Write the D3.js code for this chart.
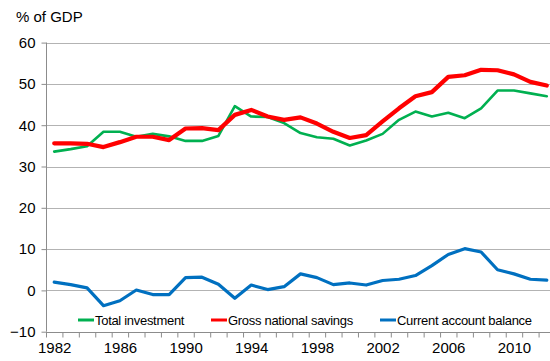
<!DOCTYPE html>
<html>
<head>
<meta charset="utf-8">
<script src="https://cdn.jsdelivr.net/npm/d3@7"></script>
<style>
  html, body { margin: 0; padding: 0; background: #fff; }
  svg { display: block; font-family: "Liberation Sans", Arial, sans-serif; }
</style>
</head>
<body>
<svg id="chart" width="550" height="361"></svg>
<script>
// Years 1982-2012, values in % of GDP
const years = d3.range(1982, 2013);
const totalInvestment = [33.6, 34.2, 34.9, 38.4, 38.4, 37.2, 37.9, 37.3, 36.2, 36.2, 37.4,
  44.6, 42.1, 42.0, 40.5, 38.1, 37.1, 36.7, 35.1, 36.3, 37.9, 41.3, 43.3, 42.1, 43.0,
  41.7, 44.1, 48.4, 48.4, 47.7, 47.0];
const grossSavings = [35.6, 35.6, 35.5, 34.7, 35.9, 37.2, 37.2, 36.4, 39.2, 39.3, 38.8,
  42.5, 43.7, 42.1, 41.3, 41.9, 40.4, 38.4, 36.9, 37.6, 40.9, 44.1, 47.0, 48.0, 51.7,
  52.1, 53.4, 53.3, 52.3, 50.5, 49.6];
const currentAccount = [2.0, 1.4, 0.6, -3.7, -2.5, 0.1, -1.0, -1.0, 3.1, 3.2, 1.5,
  -1.9, 1.3, 0.2, 0.9, 4.0, 3.1, 1.4, 1.8, 1.3, 2.4, 2.7, 3.6, 6.0, 8.7,
  10.1, 9.3, 5.0, 4.0, 2.7, 2.5];
const yTicks = [-10, 0, 10, 20, 30, 40, 50, 60];
const xLabels = [1982, 1986, 1990, 1994, 1998, 2002, 2006, 2010];

const series = [
  { name: "Total investment", values: totalInvestment, color: "#00b050", width: 2.6 },
  { name: "Gross national savings", values: grossSavings, color: "#ff0000", width: 4.2 },
  { name: "Current account balance", values: currentAccount, color: "#0070c0", width: 3.2 }
];

const svg = d3.select("#chart");
const plot = { left: 46, right: 555, top: 42.6, bottom: 331.7 };

const x = d3.scaleLinear().domain([years[0] - 0.5, years[years.length - 1] + 0.5]).range([plot.left, plot.right]);
const y = d3.scaleLinear().domain([-10, 60]).range([plot.bottom, plot.top]);

// Horizontal gridlines
svg.append("g")
  .selectAll("line")
  .data(yTicks.filter(d => d !== -10))
  .join("line")
  .attr("x1", plot.left).attr("x2", plot.right)
  .attr("y1", d => Math.round(y(d)) + 0.5).attr("y2", d => Math.round(y(d)) + 0.5)
  .attr("stroke", "#b3b3b3").attr("stroke-width", 1);

// Y axis
const yAxis = svg.append("g")
  .attr("transform", `translate(${plot.left + 0.5},0)`)
  .call(d3.axisLeft(y).tickValues(yTicks).tickSize(5).tickPadding(6).tickFormat(d3.format("d")));
yAxis.select(".domain").attr("stroke", "#8c8c8c").attr("d", `M0,${plot.top}V${plot.bottom}`);
yAxis.selectAll(".tick line").attr("stroke", "#8c8c8c");
yAxis.selectAll(".tick text").attr("font-size", 15).attr("fill", "#000")
  .attr("font-family", "Liberation Sans, Arial, sans-serif");

// X axis: tick marks on category boundaries
const boundaries = d3.range(years[0] - 0.5, years[years.length - 1] + 1, 1);
const xAxis = svg.append("g")
  .attr("transform", `translate(0,${Math.round(plot.bottom) + 0.5})`)
  .call(d3.axisBottom(x).tickValues(boundaries).tickSize(5).tickFormat(""));
xAxis.select(".domain").attr("stroke", "#8c8c8c").attr("d", `M${plot.left},0H${plot.right}`);
xAxis.selectAll(".tick line").attr("stroke", "#8c8c8c");

// X labels centred on categories
const xLab = svg.append("g")
  .attr("transform", `translate(0,${Math.round(plot.bottom) + 0.5})`)
  .call(d3.axisBottom(x).tickValues(xLabels).tickSize(0).tickPadding(10).tickFormat(d3.format("d")));
xLab.select(".domain").remove();
xLab.selectAll(".tick text").attr("font-size", 15).attr("fill", "#000")
  .attr("font-family", "Liberation Sans, Arial, sans-serif");

// Unit label
svg.append("text")
  .attr("x", 16).attr("y", 22)
  .attr("font-size", 15).attr("fill", "#000")
  .text("% of GDP");

// Lines
const line = d3.line()
  .x((d, i) => x(years[i]))
  .y(d => y(d));

svg.append("g")
  .selectAll("path")
  .data(series)
  .join("path")
  .attr("d", d => line(d.values))
  .attr("fill", "none")
  .attr("stroke", d => d.color)
  .attr("stroke-width", d => d.width)
  .attr("stroke-linejoin", "round")
  .attr("stroke-linecap", "round");

// Legend
const legendX = [78, 211, 380];
const legend = svg.append("g")
  .selectAll("g")
  .data(series)
  .join("g")
  .attr("transform", (d, i) => `translate(${legendX[i]},320)`);
legend.append("line")
  .attr("x1", 0).attr("x2", 16).attr("y1", 0).attr("y2", 0)
  .attr("stroke", d => d.color).attr("stroke-width", 3);
legend.append("text")
  .attr("x", 17).attr("y", 4.5)
  .attr("font-size", 13).attr("fill", "#000")
  .attr("letter-spacing", -0.3)
  .text(d => d.name);
</script>
</body>
</html>
